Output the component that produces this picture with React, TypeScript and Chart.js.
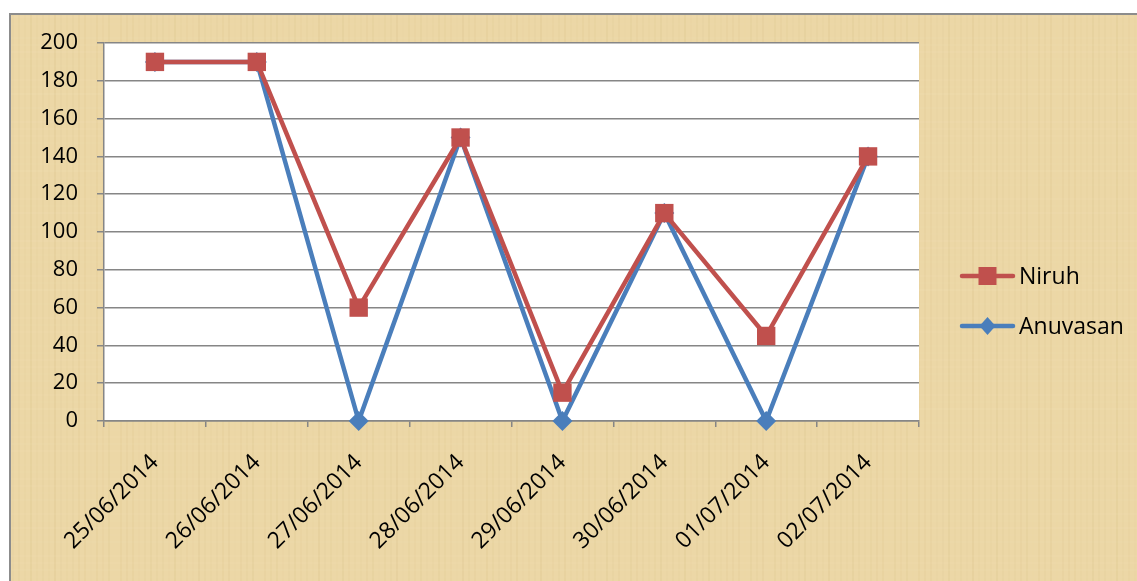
import React, { useEffect, useRef } from "react";
import { Chart, registerables } from "chart.js";

Chart.register(...registerables);

const dates = ["25/06/2014", "26/06/2014", "27/06/2014", "28/06/2014", "29/06/2014", "30/06/2014", "01/07/2014", "02/07/2014"];
const niruh = [190, 190, 60, 150, 15, 110, 45, 140];
const anuvasan = [190, 190, 0, 150, 0, 110, 0, 140];
const yTicks = [0, 20, 40, 60, 80, 100, 120, 140, 160, 180, 200];

const RED = "#C0504D";
const BLUE = "#4A7EBB";
const GRID = "#868686";
const PAPER = "#ECD7A6";
const FONT = "'Open Sans', 'DejaVu Sans', sans-serif";

const backgroundPlugin = {
  id: "bgPaper",
  beforeDraw(chart: any) {
    const { ctx, width, height, chartArea } = chart;
    ctx.save();
    ctx.fillStyle = "#ffffff";
    ctx.fillRect(0, 0, width, height);
    ctx.fillStyle = PAPER;
    ctx.fillRect(10, 14, width - 10, height - 14);
    // subtle papyrus weave (decorative)
    for (let x = 12; x < width; x += 6) {
      const a = 0.05 + 0.05 * Math.sin(x * 0.37) * Math.cos(x * 0.11);
      ctx.fillStyle = `rgba(190,160,90,${Math.max(0, a).toFixed(3)})`;
      ctx.fillRect(x, 14, 2, height - 14);
    }
    for (let y = 16; y < height; y += 7) {
      const a = 0.04 + 0.04 * Math.sin(y * 0.29) * Math.cos(y * 0.13);
      ctx.fillStyle = `rgba(255,245,215,${Math.max(0, a).toFixed(3)})`;
      ctx.fillRect(10, y, width - 10, 2);
    }
    ctx.strokeStyle = "#8C8C8C";
    ctx.lineWidth = 2;
    ctx.beginPath();
    ctx.moveTo(10, height);
    ctx.lineTo(10, 14);
    ctx.lineTo(width, 14);
    ctx.stroke();
    ctx.fillStyle = "#ffffff";
    ctx.fillRect(chartArea.left, chartArea.top, chartArea.right - chartArea.left, chartArea.bottom - chartArea.top);
    ctx.restore();
  },
};

const legendPlugin = {
  id: "customLegend",
  afterDraw(chart: any) {
    const { ctx } = chart;
    const rows = [276, 326];
    ctx.save();
    chart.data.datasets.forEach((ds: any, i: number) => {
      const y = rows[i];
      ctx.strokeStyle = ds.borderColor;
      ctx.lineWidth = 4.5;
      ctx.lineCap = "round";
      ctx.beginPath();
      ctx.moveTo(962, y);
      ctx.lineTo(1013, y);
      ctx.stroke();
      ctx.fillStyle = ds.pointBackgroundColor;
      ctx.beginPath();
      if (ds.pointStyle === "rect") {
        ctx.rect(987.5 - 9, y - 9, 18, 18);
      } else {
        ctx.moveTo(987.5, y - 9);
        ctx.lineTo(987.5 + 8, y);
        ctx.lineTo(987.5, y + 9);
        ctx.lineTo(987.5 - 8, y);
        ctx.closePath();
      }
      ctx.fill();
      ctx.fillStyle = "#000000";
      ctx.font = `23px ${FONT}`;
      ctx.textAlign = "left";
      ctx.textBaseline = "middle";
      ctx.fillText(ds.label, 1019, y + 1);
    });
    ctx.restore();
  },
};

export default function App() {
  const ref = useRef<HTMLCanvasElement | null>(null);
  useEffect(() => {
    if (!ref.current) return;
    const chart = new Chart(ref.current, {
      type: "line",
      data: {
        labels: dates,
        datasets: [
          {
            label: "Niruh",
            data: niruh,
            borderColor: RED,
            backgroundColor: RED,
            pointBackgroundColor: RED,
            pointBorderColor: RED,
            pointBorderWidth: 0,
            pointStyle: "rect",
            pointRadius: 13,
            borderWidth: 4.5,
            tension: 0,
            clip: false,
            borderJoinStyle: "round",
            borderCapStyle: "round",
          },
          {
            label: "Anuvasan",
            data: anuvasan,
            borderColor: BLUE,
            backgroundColor: BLUE,
            pointBackgroundColor: BLUE,
            pointBorderColor: BLUE,
            pointBorderWidth: 0,
            pointStyle: "rectRot",
            pointRadius: 10,
            borderWidth: 4.5,
            tension: 0,
            clip: false,
            borderJoinStyle: "round",
            borderCapStyle: "round",
          },
        ],
      },
      options: {
        responsive: false,
        animation: false,
        layout: { padding: { left: 0, top: 43, right: 218, bottom: 0 } },
        plugins: { legend: { display: false }, tooltip: { enabled: false } },
        scales: {
          x: {
            type: "category",
            offset: true,
            grid: { display: true, drawOnChartArea: false, drawTicks: true, tickLength: 6, color: GRID, lineWidth: 1.5, offset: true },
            border: { display: true, color: GRID, width: 1.5 },
            ticks: {
              autoSkip: false,
              maxRotation: 45,
              minRotation: 45,
              padding: 22,
              color: "#000000",
              font: { size: 23, family: FONT },
            },
            afterFit(scale: any) {
              scale.height = 160;
            },
          },
          y: {
            min: 0,
            max: 200,
            afterBuildTicks(scale: any) {
              scale.ticks = yTicks.map((v) => ({ value: v }));
            },
            grid: { color: GRID, lineWidth: 1.5, drawTicks: true, tickLength: 7 },
            border: { display: true, color: GRID, width: 1.5 },
            ticks: {
              padding: 19,
              color: "#000000",
              font: { size: 22, family: FONT },
            },
            afterFit(scale: any) {
              scale.width = 104;
            },
          },
        },
      },
      plugins: [backgroundPlugin, legendPlugin],
    } as any);
    return () => chart.destroy();
  }, []);
  return (
    <div style={{ position: "absolute", left: 0, top: 0, width: 1137, height: 581 }}>
      <canvas ref={ref} width={1137} height={581} style={{ width: 1137, height: 581, display: "block" }} />
    </div>
  );
}
